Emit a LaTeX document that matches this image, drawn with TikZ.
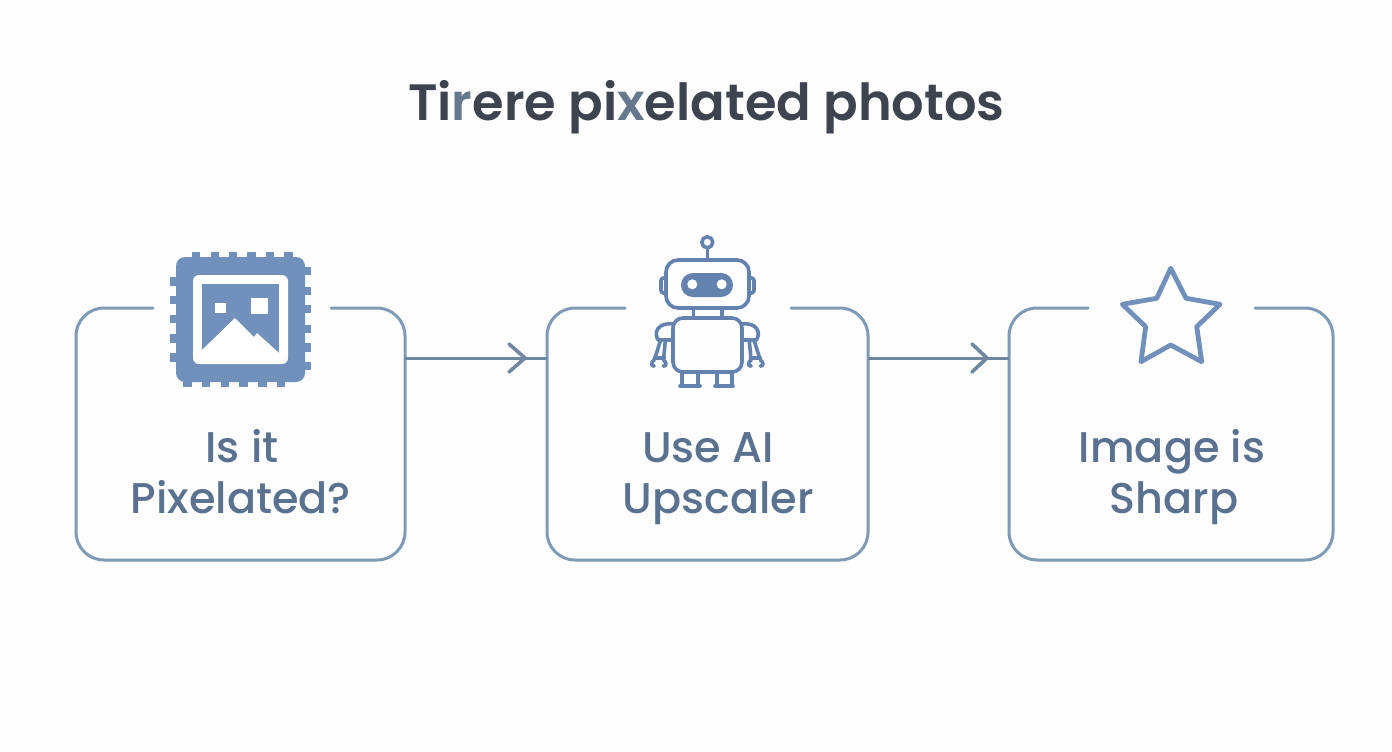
\documentclass[tikz,border=0pt]{standalone}
\usepackage{fontspec}
\setmainfont{Fira Sans}
\newfontfamily\titlefont{Poppins}[BoldFont={Poppins SemiBold}]
\newfontfamily\labelfont{Poppins Medium}
\definecolor{bgc}{HTML}{FDFDFD}
\definecolor{boxc}{HTML}{7F9AB5}
\definecolor{iconc}{HTML}{7190BB}
\definecolor{robotc}{HTML}{6482AE}
\definecolor{labelc}{HTML}{5A7290}
\definecolor{titlec}{HTML}{3D4450}
\definecolor{titlel}{HTML}{66788E}
\definecolor{arrowc}{HTML}{6F879F}
\tikzset{
  x=1pt,y=-1pt,
  boxnode/.style={inner sep=0pt,outer sep=0pt,minimum height=252pt},
  boxline/.style={draw=boxc,line width=3pt,rounded corners=28pt,line cap=round},
  flowline/.style={draw=arrowc,line width=3pt},
  chevron/.style={draw=arrowc,line width=3.6pt,line cap=round,line join=round},
  boxlabel/.style={font=\labelfont\fontsize{43}{51}\selectfont,text=labelc,inner sep=0pt,anchor=base},
  robotline/.style={draw=robotc,line width=3.6pt,line cap=round,line join=round},
  starline/.style={draw=iconc,line width=4.8pt,line join=round},
}
\begin{document}
\begin{tikzpicture}
\useasboundingbox[fill=bgc] (0,0) rectangle (1392,752);
% title
\node[inner sep=0pt,text=titlec,anchor=base] (title) at (706.5,120)
  {\titlefont\bfseries\fontsize{51.1}{60}\selectfont Ti\textcolor{titlel}{r}ere pi\textcolor{titlel}{x}elated photos};
% boxes (outline gaps leave room for the icons)
\node[boxnode,minimum width=329pt] (box1) at (240.5,434) {};
\node[boxnode,minimum width=321pt] (box2) at (707.5,434) {};
\node[boxnode,minimum width=324pt] (box3) at (1171,434) {};
\draw[boxline] (153,308) -- (box1.north west) -- (box1.south west) -- (box1.south east) -- (box1.north east) -- (331,308);
\draw[boxline] (625,308) -- (box2.north west) -- (box2.south west) -- (box2.south east) -- (box2.north east) -- (791,308);
\draw[boxline] (1088,308) -- (box3.north west) -- (box3.south west) -- (box3.south east) -- (box3.north east) -- (1255,308);
% connectors
\coordinate (a1) at (box1.east |- 0,358);
\coordinate (b1) at (box2.west |- 0,358);
\coordinate (a2) at (box2.east |- 0,358);
\coordinate (b2) at (box3.west |- 0,358);
\draw[flowline] (a1) -- (b1);
\draw[flowline] (a2) -- (b2);
\draw[chevron] (509,344) -- (525,358) -- (509,372);
\draw[chevron] (972,344) -- (987,358) -- (972,372);
% labels
\node[boxlabel] (l1a) at (242,462) {Is it};
\node[boxlabel] (l1b) at (241,513) {Pixelated?};
\node[boxlabel] (l2a) at (708,462) {Use AI};
\node[boxlabel] (l2b) at (718,513) {Upscaler};
\node[boxlabel] (l3a) at (1172,462) {Image is};
\node[boxlabel] (l3b) at (1174,513) {Sharp};
% chip icon
\fill[iconc,rounded corners=9pt] (176,257) rectangle (305,382);
\foreach \a/\b in {192/200,211/219,229/237,247/256,266/274,284/293} \fill[iconc] (\a,252) rectangle (\b,258);
\foreach \a/\b in {183/192,202/210,221/229,239/248,258/267,277/285} \fill[iconc] (\a,381) rectangle (\b,387);
\foreach \a/\b in {277/286,296/304,315/323,334/343,353/362} \fill[iconc] (170,\a) rectangle (177,\b);
\foreach \a/\b in {267/275,287/295,305/313,325/333,343/352,362/370} \fill[iconc] (304,\a) rectangle (311,\b);
\fill[white,rounded corners=6pt] (193,275) rectangle (288,364);
\fill[iconc] (202,284) rectangle (279,353);
\fill[white] (215,303) rectangle (226,313);
\fill[white] (251,298) rectangle (268,314);
\fill[white] (202,350) -- (235,318) -- (254,337) -- (257,333) -- (279,353) -- (202,353) -- cycle;
% robot icon
\draw[robotline] (707.3,248) -- (707.3,260);
\draw[robotline] (707.3,242.3) circle[radius=5.5];
\draw[robotline,rounded corners=12pt] (666,260) rectangle (749,308);
\draw[robotline,rounded corners=2.5pt] (666,278) -- (661,278) -- (661,293) -- (666,293);
\draw[robotline,rounded corners=2.5pt] (749,278) -- (754,278) -- (754,293) -- (749,293);
\fill[robotc,rounded corners=11.9pt] (681,273) rectangle (733,297);
\fill[white] (692.3,284.3) circle[radius=5];
\fill[white] (721.7,284.3) circle[radius=5];
\draw[robotline] (693.3,308) -- (693.3,318);
\draw[robotline] (721.7,308) -- (721.7,318);
\draw[robotline,rounded corners=10pt] (673,318) rectangle (742,372);
\draw[robotline] (682,372) -- (682,386) (698,372) -- (698,386);
\draw[robotline] (717,372) -- (717,386) (732,372) -- (732,386);
\draw[robotline] (680,386) -- (700,386) (715,386) -- (733,386);
\foreach \s in {1,-1}{
  \begin{scope}[shift={(707.3,0)},xscale=\s]
    \draw[robotline] (-34,324) .. controls (-50,322) and (-54,333) .. (-49,340) -- (-35,340);
    \draw[robotline] (-47,341) -- (-52,357);
    \draw[robotline] (-42,341) -- (-43.5,357);
    \draw[robotline] (-53,358) -- (-43,358);
    \draw[robotline] (-44,360) .. controls (-40,362) and (-41,367) .. (-44,366);
    \draw[robotline] (-53,360) .. controls (-57,362) and (-56,367) .. (-53,366);
  \end{scope}
}
% star icon
\draw[starline] (1170.7,268.3) -- (1186,298.3) -- (1220,304.3) -- (1196.7,326.7) -- (1201.7,361.7) -- (1170.7,345) -- (1141,361.7) -- (1145.7,326.7) -- (1122.3,304.3) -- (1156.7,298.3) -- cycle;
\end{tikzpicture}
\end{document}
